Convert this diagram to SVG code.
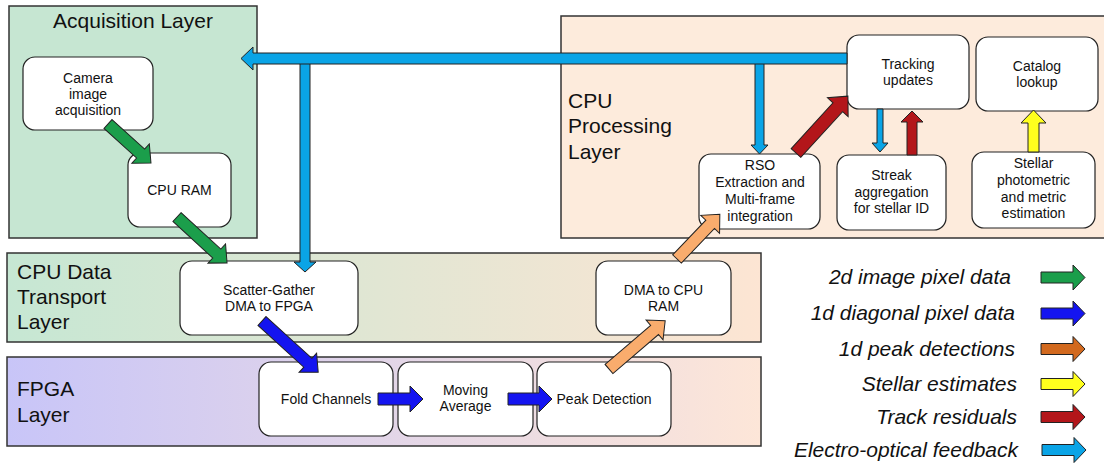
<svg xmlns="http://www.w3.org/2000/svg" width="1104" height="463" viewBox="0 0 1104 463">
<defs>
<linearGradient id="gTransport" x1="0" y1="0" x2="1" y2="0">
<stop offset="0" stop-color="#c6e7d3"/>
<stop offset="1" stop-color="#fde5d3"/>
</linearGradient>
<linearGradient id="gFpga" x1="0" y1="0" x2="1" y2="0">
<stop offset="0" stop-color="#c8c5f8"/>
<stop offset="1" stop-color="#fde6d8"/>
</linearGradient>
<style>
.layer{stroke:#333;stroke-width:1.5}
.node{fill:#fff;stroke:#222;stroke-width:1.2}
.lt{font-family:"Liberation Sans",Arial,sans-serif;font-size:21px;fill:#111}
.nt{font-family:"Liberation Sans",Arial,sans-serif;font-size:14px;fill:#111;text-anchor:middle}
.lg{font-family:"Liberation Sans",Arial,sans-serif;font-size:21px;font-style:italic;fill:#111;text-anchor:end}
.ar{stroke:#222;stroke-width:1}
.green{fill:#1b9e4b}
.blue{fill:#1414f0}
.orange{fill:#d2691e}
.lorange{fill:#f9ac6d}
.yellow{fill:#ffff1e}
.red{fill:#b3161a}
.lblue{fill:#0aa4e6}
</style>
</defs>

<g id="layer-acquisition">
<rect class="layer" x="9" y="6" width="248" height="232" fill="#c6e6d2"/>
<text class="lt" x="133" y="28" text-anchor="middle">Acquisition Layer</text>
</g>
<g id="layer-cpu-processing">
<rect class="layer" x="561" y="16" width="560" height="222" fill="#fdebdc"/>
<text class="lt" x="568" y="108">CPU</text>
<text class="lt" x="568" y="133">Processing</text>
<text class="lt" x="568" y="159">Layer</text>
</g>
<g id="layer-transport">
<rect class="layer" x="7" y="253" width="754" height="89" fill="url(#gTransport)"/>
<text class="lt" x="17" y="279">CPU Data</text>
<text class="lt" x="17" y="304">Transport</text>
<text class="lt" x="17" y="329">Layer</text>
</g>
<g id="layer-fpga">
<rect class="layer" x="7" y="357" width="754" height="89" fill="url(#gFpga)"/>
<text class="lt" x="17" y="396">FPGA</text>
<text class="lt" x="17" y="422">Layer</text>
</g>

<g id="node-camera">
<rect class="node" x="23" y="57" width="130" height="73" rx="12"/>
<text class="nt" x="88" y="83">Camera</text>
<text class="nt" x="88" y="99">image</text>
<text class="nt" x="88" y="115">acquisition</text>
</g>
<g id="node-cpu-ram">
<rect class="node" x="128" y="153" width="103" height="74" rx="12"/>
<text class="nt" x="179.5" y="195">CPU RAM</text>
</g>
<g id="node-scatter-gather">
<rect class="node" x="180" y="261" width="178" height="74" rx="12"/>
<text class="nt" x="269" y="295">Scatter-Gather</text>
<text class="nt" x="269" y="311">DMA to FPGA</text>
</g>
<g id="node-dma-cpu">
<rect class="node" x="596" y="261" width="135" height="74" rx="12"/>
<text class="nt" x="663.5" y="295">DMA to CPU</text>
<text class="nt" x="663.5" y="311">RAM</text>
</g>
<g id="node-fold">
<rect class="node" x="259" y="362" width="134" height="74" rx="12"/>
<text class="nt" x="326" y="404">Fold Channels</text>
</g>
<g id="node-moving">
<rect class="node" x="398" y="362" width="135" height="74" rx="12"/>
<text class="nt" x="465.5" y="395">Moving</text>
<text class="nt" x="465.5" y="411">Average</text>
</g>
<g id="node-peak">
<rect class="node" x="537" y="362" width="134" height="74" rx="12"/>
<text class="nt" x="604" y="404">Peak Detection</text>
</g>
<g id="node-rso">
<rect class="node" x="699" y="154" width="121" height="75" rx="12"/>
<text class="nt" x="760" y="170">RSO</text>
<text class="nt" x="760" y="187">Extraction and</text>
<text class="nt" x="760" y="204">Multi-frame</text>
<text class="nt" x="760" y="221">integration</text>
</g>
<g id="node-tracking">
<rect class="node" x="847" y="35" width="122" height="74" rx="12"/>
<text class="nt" x="908" y="69">Tracking</text>
<text class="nt" x="908" y="85">updates</text>
</g>
<g id="node-catalog">
<rect class="node" x="976" y="37" width="122" height="74" rx="12"/>
<text class="nt" x="1037" y="71">Catalog</text>
<text class="nt" x="1037" y="87">lookup</text>
</g>
<g id="node-streak">
<rect class="node" x="837" y="155" width="109" height="75" rx="12"/>
<text class="nt" x="891.5" y="180">Streak</text>
<text class="nt" x="891.5" y="197">aggregation</text>
<text class="nt" x="891.5" y="213">for stellar ID</text>
</g>
<g id="node-stellar">
<rect class="node" x="972" y="152" width="123" height="76" rx="12"/>
<text class="nt" x="1033.5" y="168">Stellar</text>
<text class="nt" x="1033.5" y="185">photometric</text>
<text class="nt" x="1033.5" y="202">and metric</text>
<text class="nt" x="1033.5" y="218">estimation</text>
</g>

<g id="connectors">
<polygon class="ar green" transform="translate(108,124) rotate(42.2)" points="0,-6 44,-6 44,-13 58,0 44,13 44,6 0,6"/>
<polygon class="ar green" transform="translate(177,217) rotate(42.6)" points="0,-6 54,-6 54,-13 68,0 54,13 54,6 0,6"/>
<polygon class="ar blue" transform="translate(262,321) rotate(42.3)" points="0,-6 62,-6 62,-13 76,0 62,13 62,6 0,6"/>
<polygon class="ar blue" points="378,393 410,393 410,386 423,399 410,412 410,405 378,405"/>
<polygon class="ar blue" points="508,393 539,393 539,386 552,399 539,412 539,405 508,405"/>
<polygon class="ar lorange" transform="translate(609,369) rotate(-40.6)" points="0,-6 60,-6 60,-13 74,0 60,13 60,6 0,6"/>
<polygon class="ar lorange" transform="translate(677,259) rotate(-46.3)" points="0,-6 48,-6 48,-13 62,0 48,13 48,6 0,6"/>
<polygon class="ar red" transform="translate(796,153) rotate(-47.6)" points="0,-6.5 62,-6.5 62,-14 77,0 62,14 62,6.5 0,6.5"/>
<polygon class="ar red" points="907,155 917,155 917,122 923,122 912,111 901,122 907,122"/>
<polygon class="ar yellow" points="1028,152 1039,152 1039,123 1046,123 1033.5,110 1021,123 1028,123"/>
<polygon class="ar lblue" points="877,109 883,109 883,143 888,143 880,152 872,143 877,143"/>
<polygon class="ar lblue" points="300,63 310,63 310,262 316,262 305,272 294,262 300,262"/>
<polygon class="ar lblue" points="755,63 764,63 764,145 768,145 759.5,154 751,145 755,145"/>
<polygon class="ar lblue" points="847,53 253,53 253,47 241,58.5 253,70 253,64 847,64"/>
</g>

<g id="legend">
<text class="lg" x="1011" y="284">2d image pixel data</text>
<text class="lg" x="1015" y="320">1d diagonal pixel data</text>
<text class="lg" x="1015" y="356">1d peak detections</text>
<text class="lg" x="1017" y="391">Stellar estimates</text>
<text class="lg" x="1017" y="424">Track residuals</text>
<text class="lg" x="1018" y="457">Electro-optical feedback</text>
<polygon class="ar green" transform="translate(1041,277.5)" points="0,-5.5 32,-5.5 32,-12.5 44,0 32,12.5 32,5.5 0,5.5"/>
<polygon class="ar blue" transform="translate(1041,313.5)" points="0,-5.5 32,-5.5 32,-12.5 44,0 32,12.5 32,5.5 0,5.5"/>
<polygon class="ar orange" transform="translate(1041,349)" points="0,-5.5 32,-5.5 32,-12.5 44,0 32,12.5 32,5.5 0,5.5"/>
<polygon class="ar yellow" transform="translate(1041,384)" points="0,-5.5 32,-5.5 32,-12.5 44,0 32,12.5 32,5.5 0,5.5"/>
<polygon class="ar red" transform="translate(1041,417)" points="0,-5.5 32,-5.5 32,-12.5 44,0 32,12.5 32,5.5 0,5.5"/>
<polygon class="ar lblue" transform="translate(1042,450)" points="0,-5.5 32,-5.5 32,-12.5 44,0 32,12.5 32,5.5 0,5.5"/>
</g>
</svg>
